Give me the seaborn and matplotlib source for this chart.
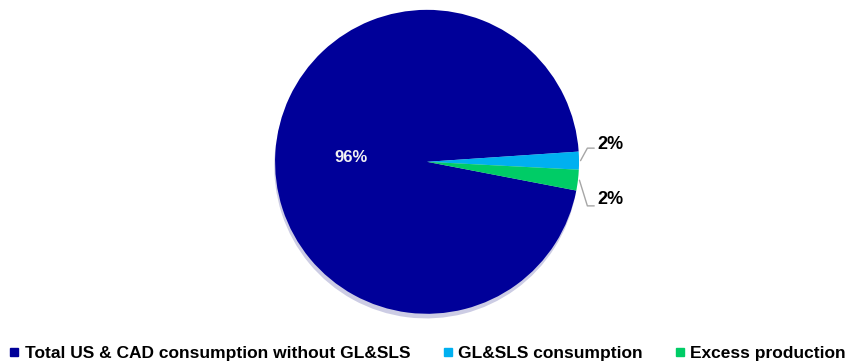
import numpy as np
import matplotlib
matplotlib.use("Agg")
import matplotlib.pyplot as plt
import seaborn as sns

# data
categories = ["Total US & CAD consumption without GL&SLS", "GL&SLS consumption", "Excess production"]
shares = [95.9, 1.9, 2.2]
colors = ["#000099", "#00B0F0", "#00CC66"]

sns.set_theme(style="white")
plt.rcParams["font.family"] = ["Liberation Sans", "DejaVu Sans"]
plt.rcParams["text.color"] = "black"

fig = plt.figure(figsize=(8.49, 3.62), dpi=100)
ax = fig.add_axes([0.324, 0.133, 0.358, 0.840])

wedges, _ = ax.pie(shares, colors=colors, startangle=-10.9, counterclock=False,
				   radius=1.0, wedgeprops=dict(linewidth=0),
				   shadow={"ox": -0.004, "oy": -0.022, "shade": 0.2, "alpha": 0.2})
ax.set_xlim(-1, 1)
ax.set_ylim(-1, 1)
ax.set_aspect("equal")
ax.axis("off")

# big slice label inside
w = wedges[0]
mid = np.deg2rad((w.theta1 + w.theta2) / 2)
ax.text(0.5 * np.cos(mid), 0.5 * np.sin(mid), f"{shares[0]:.0f}%", color="#F2F2F2",
		fontsize=12, fontweight="bold", ha="center", va="center")

# small slices: outside labels with leader lines
outside = [(1, 0.09, 1.12, 0.115), (2, -0.29, 1.12, -0.25)]
for i, ely, tx, ty in outside:
	w = wedges[i]
	mid = np.deg2rad((w.theta1 + w.theta2) / 2)
	x0, y0 = np.cos(mid), np.sin(mid)
	ax.plot([x0 + 0.01, 1.055, 1.10], [y0, ely, ely], color="#A6A6A6", lw=1.0, clip_on=False)
	ax.text(tx, ty, f"{shares[i]:.0f}%", color="black", fontsize=13,
			fontweight="bold", ha="left", va="center")

handles = [plt.Line2D([], [], marker="s", linestyle="", markersize=6,
					  markerfacecolor=c, markeredgecolor=c) for c in colors]
fig.legend(handles, categories, loc="lower center", ncol=3, frameon=False,
		   bbox_to_anchor=(0.503, -0.04), handletextpad=0.25, handlelength=0.7,
		   columnspacing=1.8, labelcolor="black",
		   prop={"weight": "bold", "size": 12.5})

fig.savefig("out.png", dpi=100)
